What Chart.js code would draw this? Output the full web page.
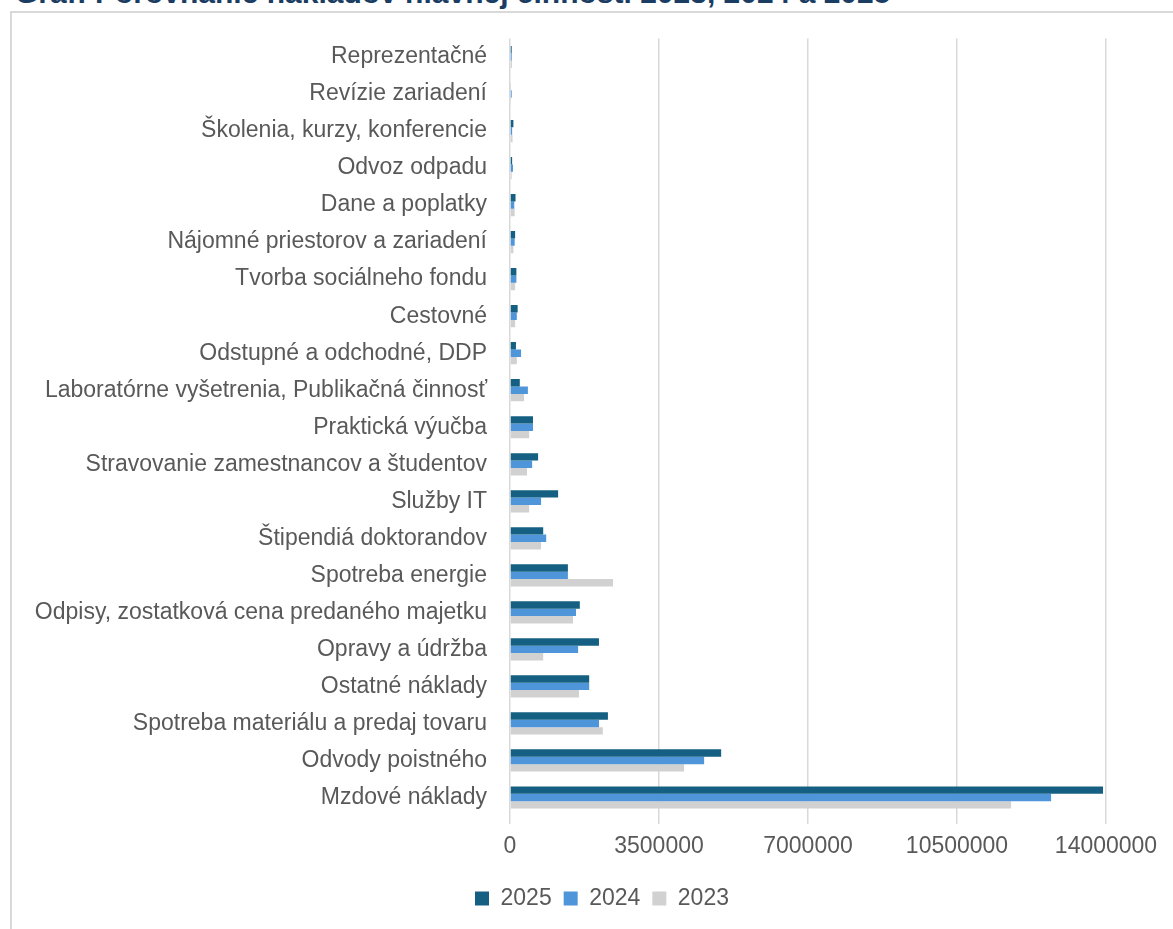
<!DOCTYPE html>
<html>
<head>
<meta charset="utf-8">
<script src="https://cdn.jsdelivr.net/npm/chart.js@4.4.1/dist/chart.umd.min.js"></script>
<style>
    body { margin: 0; background: #ffffff; overflow: hidden; width: 1173px; height: 929px; position: relative; }
    #title { position: absolute; left: 15px; top: -24px; font: bold 30px "Liberation Sans", Arial, sans-serif; color: #1b3d63; white-space: nowrap; }
    #frame { position: absolute; left: 10px; top: 11px; width: 1163px; height: 918px; border-left: 2px solid #d9d9d9; border-top: 2px solid #d9d9d9; }
    #chart { display: block; }
</style>
</head>
<body>
<div id="title">Graf: Porovnanie nákladov hlavnej činnosti 2023, 2024 a 2025</div>
<div id="frame"><canvas id="chart" width="1161" height="916"></canvas></div>
<script>

const categories = [
    'Reprezentačné',
    'Revízie zariadení',
    'Školenia, kurzy, konferencie',
    'Odvoz odpadu',
    'Dane a poplatky',
    'Nájomné priestorov a zariadení',
    'Tvorba sociálneho fondu',
    'Cestovné',
    'Odstupné a odchodné, DDP',
    'Laboratórne vyšetrenia, Publikačná činnosť',
    'Praktická výučba',
    'Stravovanie zamestnancov a študentov',
    'Služby IT',
    'Štipendiá doktorandov',
    'Spotreba energie',
    'Odpisy, zostatková cena predaného majetku',
    'Opravy a údržba',
    'Ostatné náklady',
    'Spotreba materiálu a predaj tovaru',
    'Odvody poistného',
    'Mzdové náklady'
];

const values2025 = [40000, 20000, 80000, 50000, 130000, 120000, 150000, 180000, 140000, 230000, 540000, 660000, 1130000, 780000, 1360000, 1640000, 2090000, 1860000, 2300000, 4960000, 13930000];
const values2024 = [40000, 40000, 50000, 70000, 100000, 110000, 150000, 160000, 260000, 420000, 540000, 520000, 730000, 850000, 1360000, 1550000, 1600000, 1860000, 2090000, 4560000, 12710000];
const values2023 = [45000, 10000, 60000, 40000, 110000, 80000, 120000, 120000, 160000, 330000, 450000, 400000, 450000, 730000, 2420000, 1480000, 780000, 1620000, 2180000, 4090000, 11770000];

const xTicks = [0, 3500000, 7000000, 10500000, 14000000];

const textColor = '#595959';
const fontFamily = '"Liberation Sans", Arial, sans-serif';

// legend sits a bit right of the canvas centre in the original
const legendShift = {
    id: 'legendShift',
    afterLayout: function (chart) {
        chart.legend.left += 43;
        chart.legend.right += 43;
    }
};

chartCosts();

function chartCosts() {

    const ctx = document.getElementById('chart');

    new Chart(ctx, {
        type: 'bar',
        data: {
            labels: categories,
            datasets: [{
                label: '2025',
                data: values2025,
                backgroundColor: '#156082'
            }, {
                label: '2024',
                data: values2024,
                backgroundColor: '#4e95d9'
            }, {
                label: '2023',
                data: values2023,
                backgroundColor: '#d1d1d1'
            }]
        },
        options: {
            indexAxis: 'y',
            responsive: false,
            animation: false,
            devicePixelRatio: 1,
            datasets: {
                bar: {
                    categoryPercentage: 0.6,
                    barPercentage: 1.0
                }
            },
            layout: {
                padding: { top: 25.5, right: 67, left: 0, bottom: 9 }
            },
            plugins: {
                legend: {
                    position: 'bottom',
                    labels: {
                        boxWidth: 14,
                        boxHeight: 14,
                        padding: 12,
                        color: textColor,
                        font: { family: fontFamily, size: 23 }
                    }
                },
                tooltip: { enabled: false }
            },
            scales: {
                x: {
                    min: 0,
                    max: 14000000,
                    afterBuildTicks: function (scale) {
                        scale.ticks = xTicks.map(v => ({ value: v }));
                    },
                    afterFit: function (scale) {
                        scale.height = 59;
                    },
                    grid: {
                        color: '#d9d9d9',
                        lineWidth: 1.5,
                        tickLength: 8
                    },
                    border: { display: false },
                    ticks: {
                        padding: 9,
                        color: textColor,
                        font: { family: fontFamily, size: 23 },
                        callback: function (v) { return String(v); }
                    }
                },
                y: {
                    afterFit: function (scale) {
                        scale.width = 498;
                    },
                    grid: {
                        drawOnChartArea: false,
                        color: 'rgba(0, 0, 0, 0)',
                        tickLength: 23
                    },
                    border: { display: false },
                    ticks: {
                        padding: 0,
                        autoSkip: false,
                        color: textColor,
                        font: { family: fontFamily, size: 23 }
                    }
                }
            }
        },
        plugins: [legendShift]
    });

}
</script>
</body>
</html>
